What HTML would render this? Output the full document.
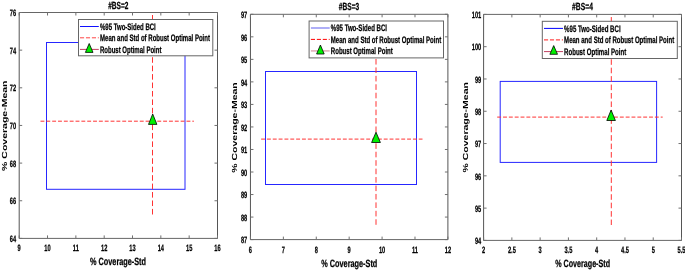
<!DOCTYPE html>
<html><head><meta charset="utf-8"><title>Coverage plots</title>
<style>
html,body{margin:0;padding:0;background:#fff;width:685px;height:271px;overflow:hidden;}
svg{display:block;will-change:transform;}
text{font-family:"Liberation Sans", sans-serif;text-rendering:geometricPrecision;}
</style></head><body>
<svg width="685" height="271" viewBox="0 0 685 271">
<rect x="0" y="0" width="685" height="271" fill="#fff"/>
<g stroke="#666" stroke-width="1" fill="none"><line x1="19.2" y1="12.5" x2="217.5" y2="12.5"/><line x1="19.2" y1="238.4" x2="217.5" y2="238.4"/></g><g stroke="#555" stroke-width="1" fill="none"><line x1="19.2" y1="12.5" x2="19.2" y2="238.4"/><line x1="217.5" y1="12.5" x2="217.5" y2="238.4"/></g><g stroke="#707070" stroke-width="1" fill="none"><line x1="19.2" y1="238.4" x2="19.2" y2="235.4" /><line x1="19.2" y1="12.5" x2="19.2" y2="15.5" /><line x1="47.53" y1="238.4" x2="47.53" y2="235.4" /><line x1="47.53" y1="12.5" x2="47.53" y2="15.5" /><line x1="75.86" y1="238.4" x2="75.86" y2="235.4" /><line x1="75.86" y1="12.5" x2="75.86" y2="15.5" /><line x1="104.19" y1="238.4" x2="104.19" y2="235.4" /><line x1="104.19" y1="12.5" x2="104.19" y2="15.5" /><line x1="132.51" y1="238.4" x2="132.51" y2="235.4" /><line x1="132.51" y1="12.5" x2="132.51" y2="15.5" /><line x1="160.84" y1="238.4" x2="160.84" y2="235.4" /><line x1="160.84" y1="12.5" x2="160.84" y2="15.5" /><line x1="189.17" y1="238.4" x2="189.17" y2="235.4" /><line x1="189.17" y1="12.5" x2="189.17" y2="15.5" /><line x1="217.5" y1="238.4" x2="217.5" y2="235.4" /><line x1="217.5" y1="12.5" x2="217.5" y2="15.5" /><line x1="19.2" y1="238.4" x2="22.2" y2="238.4" /><line x1="217.5" y1="238.4" x2="214.5" y2="238.4" /><line x1="19.2" y1="200.75" x2="22.2" y2="200.75" /><line x1="217.5" y1="200.75" x2="214.5" y2="200.75" /><line x1="19.2" y1="163.1" x2="22.2" y2="163.1" /><line x1="217.5" y1="163.1" x2="214.5" y2="163.1" /><line x1="19.2" y1="125.45" x2="22.2" y2="125.45" /><line x1="217.5" y1="125.45" x2="214.5" y2="125.45" /><line x1="19.2" y1="87.8" x2="22.2" y2="87.8" /><line x1="217.5" y1="87.8" x2="214.5" y2="87.8" /><line x1="19.2" y1="50.15" x2="22.2" y2="50.15" /><line x1="217.5" y1="50.15" x2="214.5" y2="50.15" /><line x1="19.2" y1="12.5" x2="22.2" y2="12.5" /><line x1="217.5" y1="12.5" x2="214.5" y2="12.5" /></g>
<g><text transform="translate(19.2,251) scale(0.62,1)" font-size="9.2" text-anchor="middle" fill="#000" font-weight="bold" stroke="#000" stroke-width="0.25" >9</text><text transform="translate(47.53,251) scale(0.62,1)" font-size="9.2" text-anchor="middle" fill="#000" font-weight="bold" stroke="#000" stroke-width="0.25" >10</text><text transform="translate(75.86,251) scale(0.62,1)" font-size="9.2" text-anchor="middle" fill="#000" font-weight="bold" stroke="#000" stroke-width="0.25" >11</text><text transform="translate(104.19,251) scale(0.62,1)" font-size="9.2" text-anchor="middle" fill="#000" font-weight="bold" stroke="#000" stroke-width="0.25" >12</text><text transform="translate(132.51,251) scale(0.62,1)" font-size="9.2" text-anchor="middle" fill="#000" font-weight="bold" stroke="#000" stroke-width="0.25" >13</text><text transform="translate(160.84,251) scale(0.62,1)" font-size="9.2" text-anchor="middle" fill="#000" font-weight="bold" stroke="#000" stroke-width="0.25" >14</text><text transform="translate(189.17,251) scale(0.62,1)" font-size="9.2" text-anchor="middle" fill="#000" font-weight="bold" stroke="#000" stroke-width="0.25" >15</text><text transform="translate(217.5,251) scale(0.62,1)" font-size="9.2" text-anchor="middle" fill="#000" font-weight="bold" stroke="#000" stroke-width="0.25" >16</text><text transform="translate(16.2,242.08) scale(0.62,1)" font-size="9.2" text-anchor="end" fill="#000" font-weight="bold" stroke="#000" stroke-width="0.25" >64</text><text transform="translate(16.2,204.43) scale(0.62,1)" font-size="9.2" text-anchor="end" fill="#000" font-weight="bold" stroke="#000" stroke-width="0.25" >66</text><text transform="translate(16.2,166.78) scale(0.62,1)" font-size="9.2" text-anchor="end" fill="#000" font-weight="bold" stroke="#000" stroke-width="0.25" >68</text><text transform="translate(16.2,129.13) scale(0.62,1)" font-size="9.2" text-anchor="end" fill="#000" font-weight="bold" stroke="#000" stroke-width="0.25" >70</text><text transform="translate(16.2,91.48) scale(0.62,1)" font-size="9.2" text-anchor="end" fill="#000" font-weight="bold" stroke="#000" stroke-width="0.25" >72</text><text transform="translate(16.2,53.83) scale(0.62,1)" font-size="9.2" text-anchor="end" fill="#000" font-weight="bold" stroke="#000" stroke-width="0.25" >74</text><text transform="translate(16.2,16.18) scale(0.62,1)" font-size="9.2" text-anchor="end" fill="#000" font-weight="bold" stroke="#000" stroke-width="0.25" >76</text></g>
<rect x="46.5" y="42.5" width="138.5" height="146.8" fill="none" stroke="#2626ff" stroke-width="1"/>
<line x1="40.5" y1="121.2" x2="193.9" y2="121.2" stroke="#ff3333" stroke-width="1" stroke-dasharray="3.9 1.94"/>
<line x1="152.5" y1="15" x2="152.5" y2="121" stroke="#ff3333" stroke-width="1" stroke-dasharray="5.6 2.84"/>
<line x1="152.5" y1="124.5" x2="152.5" y2="214.5" stroke="#ff3333" stroke-width="1" stroke-dasharray="5.6 2.84"/>
<path d="M152.7,114 L156.9,124.4 L148.5,124.4 Z" fill="#00f000" stroke="#000" stroke-width="0.8" stroke-linejoin="miter"/>
<rect x="78.5" y="19.5" width="134.3" height="36.3" fill="#fff" stroke="#666" stroke-width="1"/>
<line x1="80" y1="26.5" x2="98.8" y2="26.5" stroke="#1010ff" stroke-width="1"/>
<line x1="80" y1="37.8" x2="98.8" y2="37.8" stroke="#ff4444" stroke-width="1" stroke-dasharray="4.1 1.85"/>
<line x1="80" y1="49.4" x2="98.8" y2="49.4" stroke="#c04060" stroke-width="1"/>
<path d="M89.2,43.5 L93,52.4 L85.4,52.4 Z" fill="#00f000" stroke="#000" stroke-width="0.8"/>
<text transform="translate(100,30.08) scale(0.7,1)" font-size="9.4" text-anchor="start" fill="#000" font-weight="bold" stroke="#000" stroke-width="0.25" textLength="79.71" lengthAdjust="spacingAndGlyphs" >%95 Two-Sided BCI</text>
<text transform="translate(100,40.98) scale(0.7,1)" font-size="9.4" text-anchor="start" fill="#000" font-weight="bold" stroke="#000" stroke-width="0.25" textLength="157.14" lengthAdjust="spacingAndGlyphs" >Mean and Std of Robust Optimal Point</text>
<text transform="translate(100,52.78) scale(0.7,1)" font-size="9.4" text-anchor="start" fill="#000" font-weight="bold" stroke="#000" stroke-width="0.25" textLength="87.71" lengthAdjust="spacingAndGlyphs" >Robust Optimal Point</text>
<text transform="translate(118.3,8.8) scale(0.7,1)" font-size="10.4" text-anchor="middle" fill="#000" font-weight="bold" stroke="#000" stroke-width="0.25" textLength="28.86" lengthAdjust="spacingAndGlyphs" >#BS=2</text>
<text transform="translate(118,265) scale(0.7,1)" font-size="10.5" text-anchor="middle" fill="#000" font-weight="bold" stroke="#000" stroke-width="0.25" textLength="80" lengthAdjust="spacingAndGlyphs" >% Coverage-Std</text>
<text transform="translate(7,125.7) rotate(-90) scale(1,0.7)" font-size="10.5" text-anchor="middle" font-weight="bold" textLength="90.5" lengthAdjust="spacingAndGlyphs">% Coverage-Mean</text>
<g stroke="#666" stroke-width="1" fill="none"><line x1="250.45" y1="14.3" x2="447.9" y2="14.3"/><line x1="250.45" y1="239.6" x2="447.9" y2="239.6"/></g><g stroke="#555" stroke-width="1" fill="none"><line x1="250.45" y1="14.3" x2="250.45" y2="239.6"/><line x1="447.9" y1="14.3" x2="447.9" y2="239.6"/></g><g stroke="#707070" stroke-width="1" fill="none"><line x1="250.45" y1="239.6" x2="250.45" y2="236.6" /><line x1="250.45" y1="14.3" x2="250.45" y2="17.3" /><line x1="283.36" y1="239.6" x2="283.36" y2="236.6" /><line x1="283.36" y1="14.3" x2="283.36" y2="17.3" /><line x1="316.27" y1="239.6" x2="316.27" y2="236.6" /><line x1="316.27" y1="14.3" x2="316.27" y2="17.3" /><line x1="349.17" y1="239.6" x2="349.17" y2="236.6" /><line x1="349.17" y1="14.3" x2="349.17" y2="17.3" /><line x1="382.08" y1="239.6" x2="382.08" y2="236.6" /><line x1="382.08" y1="14.3" x2="382.08" y2="17.3" /><line x1="414.99" y1="239.6" x2="414.99" y2="236.6" /><line x1="414.99" y1="14.3" x2="414.99" y2="17.3" /><line x1="447.9" y1="239.6" x2="447.9" y2="236.6" /><line x1="447.9" y1="14.3" x2="447.9" y2="17.3" /><line x1="250.45" y1="239.6" x2="253.45" y2="239.6" /><line x1="447.9" y1="239.6" x2="444.9" y2="239.6" /><line x1="250.45" y1="217.07" x2="253.45" y2="217.07" /><line x1="447.9" y1="217.07" x2="444.9" y2="217.07" /><line x1="250.45" y1="194.54" x2="253.45" y2="194.54" /><line x1="447.9" y1="194.54" x2="444.9" y2="194.54" /><line x1="250.45" y1="172.01" x2="253.45" y2="172.01" /><line x1="447.9" y1="172.01" x2="444.9" y2="172.01" /><line x1="250.45" y1="149.48" x2="253.45" y2="149.48" /><line x1="447.9" y1="149.48" x2="444.9" y2="149.48" /><line x1="250.45" y1="126.95" x2="253.45" y2="126.95" /><line x1="447.9" y1="126.95" x2="444.9" y2="126.95" /><line x1="250.45" y1="104.42" x2="253.45" y2="104.42" /><line x1="447.9" y1="104.42" x2="444.9" y2="104.42" /><line x1="250.45" y1="81.89" x2="253.45" y2="81.89" /><line x1="447.9" y1="81.89" x2="444.9" y2="81.89" /><line x1="250.45" y1="59.36" x2="253.45" y2="59.36" /><line x1="447.9" y1="59.36" x2="444.9" y2="59.36" /><line x1="250.45" y1="36.83" x2="253.45" y2="36.83" /><line x1="447.9" y1="36.83" x2="444.9" y2="36.83" /><line x1="250.45" y1="14.3" x2="253.45" y2="14.3" /><line x1="447.9" y1="14.3" x2="444.9" y2="14.3" /></g>
<g><text transform="translate(250.45,252.5) scale(0.62,1)" font-size="9.2" text-anchor="middle" fill="#000" font-weight="bold" stroke="#000" stroke-width="0.25" >6</text><text transform="translate(283.36,252.5) scale(0.62,1)" font-size="9.2" text-anchor="middle" fill="#000" font-weight="bold" stroke="#000" stroke-width="0.25" >7</text><text transform="translate(316.27,252.5) scale(0.62,1)" font-size="9.2" text-anchor="middle" fill="#000" font-weight="bold" stroke="#000" stroke-width="0.25" >8</text><text transform="translate(349.17,252.5) scale(0.62,1)" font-size="9.2" text-anchor="middle" fill="#000" font-weight="bold" stroke="#000" stroke-width="0.25" >9</text><text transform="translate(382.08,252.5) scale(0.62,1)" font-size="9.2" text-anchor="middle" fill="#000" font-weight="bold" stroke="#000" stroke-width="0.25" >10</text><text transform="translate(414.99,252.5) scale(0.62,1)" font-size="9.2" text-anchor="middle" fill="#000" font-weight="bold" stroke="#000" stroke-width="0.25" >11</text><text transform="translate(447.9,252.5) scale(0.62,1)" font-size="9.2" text-anchor="middle" fill="#000" font-weight="bold" stroke="#000" stroke-width="0.25" >12</text><text transform="translate(247.3,243.28) scale(0.62,1)" font-size="9.2" text-anchor="end" fill="#000" font-weight="bold" stroke="#000" stroke-width="0.25" >87</text><text transform="translate(247.3,220.75) scale(0.62,1)" font-size="9.2" text-anchor="end" fill="#000" font-weight="bold" stroke="#000" stroke-width="0.25" >88</text><text transform="translate(247.3,198.22) scale(0.62,1)" font-size="9.2" text-anchor="end" fill="#000" font-weight="bold" stroke="#000" stroke-width="0.25" >89</text><text transform="translate(247.3,175.69) scale(0.62,1)" font-size="9.2" text-anchor="end" fill="#000" font-weight="bold" stroke="#000" stroke-width="0.25" >90</text><text transform="translate(247.3,153.16) scale(0.62,1)" font-size="9.2" text-anchor="end" fill="#000" font-weight="bold" stroke="#000" stroke-width="0.25" >91</text><text transform="translate(247.3,130.63) scale(0.62,1)" font-size="9.2" text-anchor="end" fill="#000" font-weight="bold" stroke="#000" stroke-width="0.25" >92</text><text transform="translate(247.3,108.1) scale(0.62,1)" font-size="9.2" text-anchor="end" fill="#000" font-weight="bold" stroke="#000" stroke-width="0.25" >93</text><text transform="translate(247.3,85.57) scale(0.62,1)" font-size="9.2" text-anchor="end" fill="#000" font-weight="bold" stroke="#000" stroke-width="0.25" >94</text><text transform="translate(247.3,63.04) scale(0.62,1)" font-size="9.2" text-anchor="end" fill="#000" font-weight="bold" stroke="#000" stroke-width="0.25" >95</text><text transform="translate(247.3,40.51) scale(0.62,1)" font-size="9.2" text-anchor="end" fill="#000" font-weight="bold" stroke="#000" stroke-width="0.25" >96</text><text transform="translate(247.3,17.98) scale(0.62,1)" font-size="9.2" text-anchor="end" fill="#000" font-weight="bold" stroke="#000" stroke-width="0.25" >97</text></g>
<rect x="265.5" y="71.5" width="151" height="113" fill="none" stroke="#2626ff" stroke-width="1"/>
<line x1="261.1" y1="139.1" x2="422.5" y2="139.1" stroke="#ff3333" stroke-width="1" stroke-dasharray="3.9 1.94"/>
<line x1="376" y1="25.2" x2="376" y2="134" stroke="#ff3333" stroke-width="1" stroke-dasharray="5.6 2.84"/>
<line x1="376" y1="134.86" x2="376" y2="224.8" stroke="#ff3333" stroke-width="1" stroke-dasharray="5.6 2.84"/>
<path d="M376,132.2 L380.4,142.5 L371.6,142.5 Z" fill="#00f000" stroke="#000" stroke-width="0.8" stroke-linejoin="miter"/>
<rect x="309.1" y="21" width="134.4" height="36.9" fill="#fff" stroke="#666" stroke-width="1"/>
<line x1="310.9" y1="28" x2="329.7" y2="28" stroke="#8c8cf4" stroke-width="1.4"/>
<line x1="310.9" y1="39.4" x2="329.7" y2="39.4" stroke="#ff0000" stroke-width="1" stroke-dasharray="4.1 1.85"/>
<line x1="310.9" y1="50.9" x2="329.7" y2="50.9" stroke="#e0b0b8" stroke-width="1.6"/>
<path d="M320.4,45 L324.2,54 L316.6,54 Z" fill="#00f000" stroke="#000" stroke-width="0.8"/>
<text transform="translate(330.8,30.88) scale(0.7,1)" font-size="9.4" text-anchor="start" fill="#000" font-weight="bold" stroke="#000" stroke-width="0.25" textLength="80.29" lengthAdjust="spacingAndGlyphs" >%95 Two-Sided BCI</text>
<text transform="translate(330.8,42.98) scale(0.7,1)" font-size="9.4" text-anchor="start" fill="#000" font-weight="bold" stroke="#000" stroke-width="0.25" textLength="157.71" lengthAdjust="spacingAndGlyphs" >Mean and Std of Robust Optimal Point</text>
<text transform="translate(330.8,54.08) scale(0.7,1)" font-size="9.4" text-anchor="start" fill="#000" font-weight="bold" stroke="#000" stroke-width="0.25" textLength="88.57" lengthAdjust="spacingAndGlyphs" >Robust Optimal Point</text>
<text transform="translate(349,9.9) scale(0.7,1)" font-size="10.4" text-anchor="middle" fill="#000" font-weight="bold" stroke="#000" stroke-width="0.25" textLength="29" lengthAdjust="spacingAndGlyphs" >#BS=3</text>
<text transform="translate(349.3,266.7) scale(0.7,1)" font-size="10.5" text-anchor="middle" fill="#000" font-weight="bold" stroke="#000" stroke-width="0.25" textLength="80" lengthAdjust="spacingAndGlyphs" >% Coverage-Std</text>
<text transform="translate(237.4,127.5) rotate(-90) scale(1,0.7)" font-size="10.5" text-anchor="middle" font-weight="bold" textLength="90.5" lengthAdjust="spacingAndGlyphs">% Coverage-Mean</text>
<g stroke="#666" stroke-width="1" fill="none"><line x1="483.6" y1="14.4" x2="681.5" y2="14.4"/><line x1="483.6" y1="240.4" x2="681.5" y2="240.4"/></g><g stroke="#555" stroke-width="1" fill="none"><line x1="483.6" y1="14.4" x2="483.6" y2="240.4"/><line x1="681.5" y1="14.4" x2="681.5" y2="240.4"/></g><g stroke="#707070" stroke-width="1" fill="none"><line x1="483.6" y1="240.4" x2="483.6" y2="237.4" /><line x1="483.6" y1="14.4" x2="483.6" y2="17.4" /><line x1="511.87" y1="240.4" x2="511.87" y2="237.4" /><line x1="511.87" y1="14.4" x2="511.87" y2="17.4" /><line x1="540.14" y1="240.4" x2="540.14" y2="237.4" /><line x1="540.14" y1="14.4" x2="540.14" y2="17.4" /><line x1="568.41" y1="240.4" x2="568.41" y2="237.4" /><line x1="568.41" y1="14.4" x2="568.41" y2="17.4" /><line x1="596.69" y1="240.4" x2="596.69" y2="237.4" /><line x1="596.69" y1="14.4" x2="596.69" y2="17.4" /><line x1="624.96" y1="240.4" x2="624.96" y2="237.4" /><line x1="624.96" y1="14.4" x2="624.96" y2="17.4" /><line x1="653.23" y1="240.4" x2="653.23" y2="237.4" /><line x1="653.23" y1="14.4" x2="653.23" y2="17.4" /><line x1="681.5" y1="240.4" x2="681.5" y2="237.4" /><line x1="681.5" y1="14.4" x2="681.5" y2="17.4" /><line x1="483.6" y1="240.4" x2="486.6" y2="240.4" /><line x1="681.5" y1="240.4" x2="678.5" y2="240.4" /><line x1="483.6" y1="208.11" x2="486.6" y2="208.11" /><line x1="681.5" y1="208.11" x2="678.5" y2="208.11" /><line x1="483.6" y1="175.83" x2="486.6" y2="175.83" /><line x1="681.5" y1="175.83" x2="678.5" y2="175.83" /><line x1="483.6" y1="143.54" x2="486.6" y2="143.54" /><line x1="681.5" y1="143.54" x2="678.5" y2="143.54" /><line x1="483.6" y1="111.26" x2="486.6" y2="111.26" /><line x1="681.5" y1="111.26" x2="678.5" y2="111.26" /><line x1="483.6" y1="78.97" x2="486.6" y2="78.97" /><line x1="681.5" y1="78.97" x2="678.5" y2="78.97" /><line x1="483.6" y1="46.69" x2="486.6" y2="46.69" /><line x1="681.5" y1="46.69" x2="678.5" y2="46.69" /><line x1="483.6" y1="14.4" x2="486.6" y2="14.4" /><line x1="681.5" y1="14.4" x2="678.5" y2="14.4" /></g>
<g><text transform="translate(483.6,253) scale(0.62,1)" font-size="9.2" text-anchor="middle" fill="#000" font-weight="bold" stroke="#000" stroke-width="0.25" >2</text><text transform="translate(511.87,253) scale(0.62,1)" font-size="9.2" text-anchor="middle" fill="#000" font-weight="bold" stroke="#000" stroke-width="0.25" >2.5</text><text transform="translate(540.14,253) scale(0.62,1)" font-size="9.2" text-anchor="middle" fill="#000" font-weight="bold" stroke="#000" stroke-width="0.25" >3</text><text transform="translate(568.41,253) scale(0.62,1)" font-size="9.2" text-anchor="middle" fill="#000" font-weight="bold" stroke="#000" stroke-width="0.25" >3.5</text><text transform="translate(596.69,253) scale(0.62,1)" font-size="9.2" text-anchor="middle" fill="#000" font-weight="bold" stroke="#000" stroke-width="0.25" >4</text><text transform="translate(624.96,253) scale(0.62,1)" font-size="9.2" text-anchor="middle" fill="#000" font-weight="bold" stroke="#000" stroke-width="0.25" >4.5</text><text transform="translate(653.23,253) scale(0.62,1)" font-size="9.2" text-anchor="middle" fill="#000" font-weight="bold" stroke="#000" stroke-width="0.25" >5</text><text transform="translate(681.5,253) scale(0.62,1)" font-size="9.2" text-anchor="middle" fill="#000" font-weight="bold" stroke="#000" stroke-width="0.25" >5.5</text><text transform="translate(481.3,244.08) scale(0.62,1)" font-size="9.2" text-anchor="end" fill="#000" font-weight="bold" stroke="#000" stroke-width="0.25" >94</text><text transform="translate(481.3,211.79) scale(0.62,1)" font-size="9.2" text-anchor="end" fill="#000" font-weight="bold" stroke="#000" stroke-width="0.25" >95</text><text transform="translate(481.3,179.51) scale(0.62,1)" font-size="9.2" text-anchor="end" fill="#000" font-weight="bold" stroke="#000" stroke-width="0.25" >96</text><text transform="translate(481.3,147.22) scale(0.62,1)" font-size="9.2" text-anchor="end" fill="#000" font-weight="bold" stroke="#000" stroke-width="0.25" >97</text><text transform="translate(481.3,114.94) scale(0.62,1)" font-size="9.2" text-anchor="end" fill="#000" font-weight="bold" stroke="#000" stroke-width="0.25" >98</text><text transform="translate(481.3,82.65) scale(0.62,1)" font-size="9.2" text-anchor="end" fill="#000" font-weight="bold" stroke="#000" stroke-width="0.25" >99</text><text transform="translate(481.3,50.37) scale(0.62,1)" font-size="9.2" text-anchor="end" fill="#000" font-weight="bold" stroke="#000" stroke-width="0.25" >100</text><text transform="translate(481.3,18.08) scale(0.62,1)" font-size="9.2" text-anchor="end" fill="#000" font-weight="bold" stroke="#000" stroke-width="0.25" >101</text></g>
<rect x="500.2" y="81.4" width="156.4" height="81" fill="none" stroke="#2626ff" stroke-width="1"/>
<line x1="497.2" y1="117.1" x2="662.7" y2="117.1" stroke="#ff3333" stroke-width="1" stroke-dasharray="3.9 1.94"/>
<line x1="611.3" y1="17.04" x2="611.3" y2="112" stroke="#ff3333" stroke-width="1" stroke-dasharray="5.6 2.84"/>
<line x1="611.3" y1="118.26" x2="611.3" y2="225" stroke="#ff3333" stroke-width="1" stroke-dasharray="5.6 2.84"/>
<path d="M611.1,110 L615.4,120.5 L606.8,120.5 Z" fill="#00f000" stroke="#000" stroke-width="0.8" stroke-linejoin="miter"/>
<rect x="542.3" y="21.3" width="135" height="37.2" fill="#fff" stroke="#666" stroke-width="1"/>
<line x1="544" y1="28.4" x2="563" y2="28.4" stroke="#0000ff" stroke-width="1"/>
<line x1="544" y1="39.9" x2="563" y2="39.9" stroke="#ff4848" stroke-width="1.3" stroke-dasharray="4.1 1.85"/>
<line x1="544" y1="51.6" x2="563" y2="51.6" stroke="#c04060" stroke-width="1"/>
<path d="M553.7,45.6 L557.5,54.3 L549.9,54.3 Z" fill="#00f000" stroke="#000" stroke-width="0.8"/>
<text transform="translate(564.1,31.58) scale(0.7,1)" font-size="9.4" text-anchor="start" fill="#000" font-weight="bold" stroke="#000" stroke-width="0.25" textLength="80.71" lengthAdjust="spacingAndGlyphs" >%95 Two-Sided BCI</text>
<text transform="translate(564.1,43.38) scale(0.7,1)" font-size="9.4" text-anchor="start" fill="#000" font-weight="bold" stroke="#000" stroke-width="0.25" textLength="157.29" lengthAdjust="spacingAndGlyphs" >Mean and Std of Robust Optimal Point</text>
<text transform="translate(564.1,54.98) scale(0.7,1)" font-size="9.4" text-anchor="start" fill="#000" font-weight="bold" stroke="#000" stroke-width="0.25" textLength="88.71" lengthAdjust="spacingAndGlyphs" >Robust Optimal Point</text>
<text transform="translate(582.5,10.3) scale(0.7,1)" font-size="10.4" text-anchor="middle" fill="#000" font-weight="bold" stroke="#000" stroke-width="0.25" textLength="29.71" lengthAdjust="spacingAndGlyphs" >#BS=4</text>
<text transform="translate(582.6,266.8) scale(0.7,1)" font-size="10.5" text-anchor="middle" fill="#000" font-weight="bold" stroke="#000" stroke-width="0.25" textLength="78.29" lengthAdjust="spacingAndGlyphs" >% Coverage-Std</text>
<text transform="translate(468,127.3) rotate(-90) scale(1,0.7)" font-size="10.5" text-anchor="middle" font-weight="bold" textLength="90.5" lengthAdjust="spacingAndGlyphs">% Coverage-Mean</text>
</svg>
</body></html>
